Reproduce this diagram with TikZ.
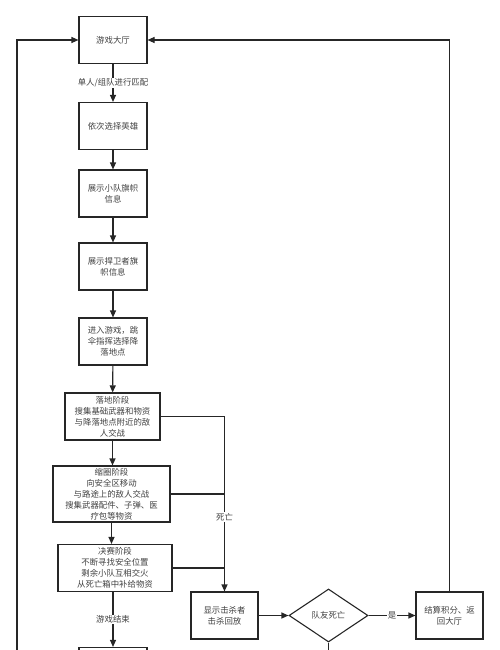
\documentclass[tikz,border=0pt]{standalone}
\usepackage{fontspec}
\newfontfamily\cjk{Noto Sans CJK SC}
\usetikzlibrary{arrows.meta, positioning, shapes.geometric, calc}

\begin{document}
\begin{tikzpicture}[
    x=1pt, y=-1pt,
    font=\cjk\fontsize{8.4}{11}\selectfont,
    text=black!75,
    block/.style={draw=black!85, line width=1.1pt, align=center, minimum width=68pt, minimum height=47pt, inner sep=2pt},
    check/.style={draw=black!85, line width=1.1pt, diamond, aspect=1.5, align=center, minimum width=79pt, minimum height=53pt, inner sep=0pt},
    tag/.style={fill=white, inner sep=1pt},
    arrow/.style={-{Triangle[length=7pt, width=6pt]}, line width=1.1pt, draw=black!85},
    link/.style={line width=1.1pt, draw=black!85}
]
\useasboundingbox (0,0) rectangle (500,650);
\clip (0,0) rectangle (500,650);

\node[block] (lobby) at (113,40) {游戏大厅};
\node[block] (hero) at (113,126) {依次选择英雄};
\node[block] (squad) at (113,193.5) {展示小队旗帜\\信息};
\node[block] (guard) at (113,266.5) {展示捍卫者旗\\帜信息};
\node[block] (jump) at (113,341.5) {进入游戏，跳\\伞指挥选择降\\落地点};
\node[block, minimum width=95pt] (land) at (112.5,416.5) {落地阶段\\搜集基础武器和物资\\与降落地点附近的敌\\人交战};
\node[block, minimum width=117pt, minimum height=56pt] (shrink) at (111.5,494) {缩圈阶段\\向安全区移动\\与路途上的敌人交战\\搜集武器配件、子弹、医\\疗包等物资};
\node[block, minimum width=114pt] (final) at (115,568) {决赛阶段\\不断寻找安全位置\\剩余小队互相交火\\从死亡箱中补给物资};
\node[block] (over) at (113,671) {};

\node[block, minimum width=67pt] (kill) at (224.5,615.5) {显示击杀者\\击杀回放};
\node[check] (mate) at (328.5,615.5) {队友死亡};
\node[block, minimum width=67pt] (settle) at (449.5,615.5) {结算积分、返\\回大厅};
\coordinate (down) at (328.5,700);

\draw[arrow] (lobby) -- node[tag] {单人/组队进行匹配} (hero);
\draw[arrow] (hero) -- (squad);
\draw[arrow] (squad) -- (guard);
\draw[arrow] (guard) -- (jump);
\draw[arrow] (jump) -- (land);
\draw[arrow] (land) -- (land |- shrink.north);
\draw[arrow] (shrink) -- (shrink |- final.north);
\draw[arrow] (final.south -| lobby) -- node[tag] {游戏结束} (over);

\draw[arrow] (land.east) -| (kill.north);
\draw[link] (shrink.east) -- (shrink.east -| kill.north);
\draw[link] (final.east) -- (final.east -| kill.north);
\node[tag] at (224.5,517) {死亡};

\draw[arrow] (kill) -- (mate);
\draw[arrow] (mate) -- node[tag] {是} (settle);
\draw[link] (mate) -- (down);
\draw[arrow] (settle.north) |- (lobby.east);
\draw[arrow] (over.west) -| (17,40) -- (lobby.west);
\end{tikzpicture}
\end{document}
